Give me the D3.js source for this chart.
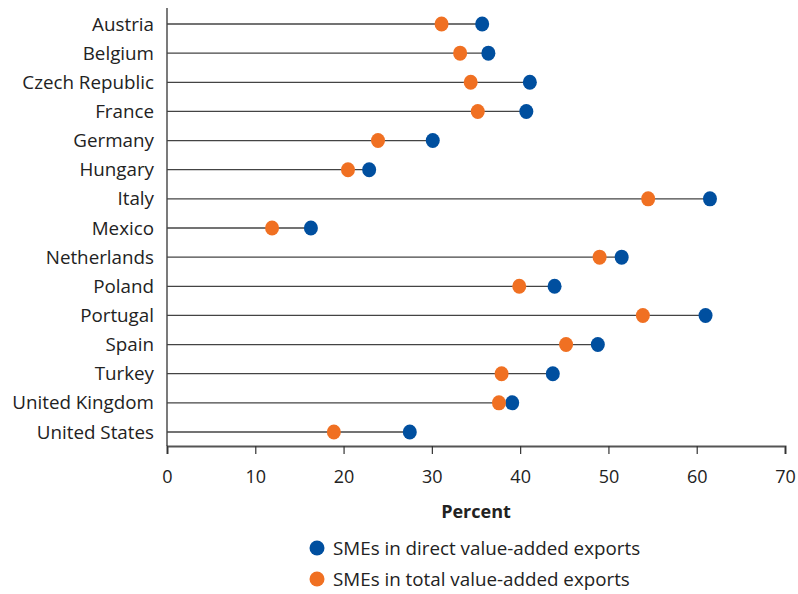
<!DOCTYPE html>
<html>
<head>
<meta charset="utf-8">
<script src="https://cdn.jsdelivr.net/npm/d3@7"></script>
<style>
  body { margin: 0; background: #fff; }
  text { font-family: "Open Sans", "Noto Sans", sans-serif; fill: #222; }
</style>
</head>
<body>
<div id="chart"></div>
<script>
const countries = ["Austria", "Belgium", "Czech Republic", "France", "Germany", "Hungary", "Italy",
  "Mexico", "Netherlands", "Poland", "Portugal", "Spain", "Turkey", "United Kingdom", "United States"];
const direct = [35.7, 36.4, 41.1, 40.7, 30.1, 22.9, 61.5, 16.3, 51.5, 43.9, 61.0, 48.8, 43.7, 39.1, 27.5];
const total = [31.1, 33.2, 34.4, 35.2, 23.9, 20.5, 54.5, 11.9, 49.0, 39.9, 53.9, 45.2, 37.9, 37.6, 18.9];
const xTicks = [0, 10, 20, 30, 40, 50, 60, 70];
const seriesNames = ["SMEs in direct value-added exports", "SMEs in total value-added exports"];
const colors = ["#004f9f", "#f07022"];

const width = 798, height = 594;
const margin = { left: 167, right: 13, top: 8 };
const axisY = 446;

const svg = d3.select("#chart")
  .append("svg")
  .attr("width", width)
  .attr("height", height);

const x = d3.scaleLinear()
  .domain([0, 70])
  .range([margin.left, width - margin.right]);

const y = d3.scalePoint()
  .domain(countries)
  .range([24, 432]);

// bottom axis
const xAxis = svg.append("g")
  .attr("transform", `translate(0,${axisY})`)
  .call(d3.axisBottom(x).tickValues(xTicks).tickSize(8).tickPadding(16));
xAxis.select(".domain").attr("stroke", "#555").attr("stroke-width", 2);
xAxis.selectAll(".tick line").attr("stroke", "#333").attr("stroke-width", 1.2);
xAxis.selectAll(".tick text")
  .style("font-family", "'Open Sans', 'Noto Sans', sans-serif")
  .style("font-size", "18px")
  .attr("fill", "#222");

// left axis line
svg.append("line")
  .attr("x1", x(0)).attr("x2", x(0))
  .attr("y1", margin.top).attr("y2", axisY)
  .attr("stroke", "#222").attr("stroke-width", 1.2);

// country labels
svg.append("g").selectAll("text")
  .data(countries)
  .join("text")
  .attr("x", x(0) - 13)
  .attr("y", d => y(d))
  .attr("dy", "0.35em")
  .attr("text-anchor", "end")
  .style("font-size", "18.8px")
  .text(d => d);

// stems
svg.append("g").selectAll("line")
  .data(countries)
  .join("line")
  .attr("x1", x(0))
  .attr("x2", (d, i) => x(Math.max(direct[i], total[i])))
  .attr("y1", d => y(d))
  .attr("y2", d => y(d))
  .attr("stroke", "#444")
  .attr("stroke-width", 1.3);

// dots
[direct, total].forEach((vals, s) => {
  svg.append("g").selectAll("ellipse")
    .data(countries)
    .join("ellipse")
    .attr("cx", (d, i) => x(vals[i]))
    .attr("cy", d => y(d))
    .attr("rx", 7)
    .attr("ry", 7.5)
    .attr("fill", colors[s]);
});

// axis title
svg.append("text")
  .attr("x", (x(0) + x(70)) / 2)
  .attr("y", 512)
  .attr("dy", "0.35em")
  .attr("text-anchor", "middle")
  .style("font-size", "18px")
  .style("font-weight", "bold")
  .text("Percent");

// legend
const legend = svg.append("g");
seriesNames.forEach((name, i) => {
  const ly = 548 + i * 31;
  legend.append("circle")
    .attr("cx", 317).attr("cy", ly).attr("r", 7.5)
    .attr("fill", colors[i]);
  legend.append("text")
    .attr("x", 333).attr("y", ly)
    .attr("dy", "0.35em")
    .style("font-size", "18.8px")
    .text(name);
});
</script>
</body>
</html>
